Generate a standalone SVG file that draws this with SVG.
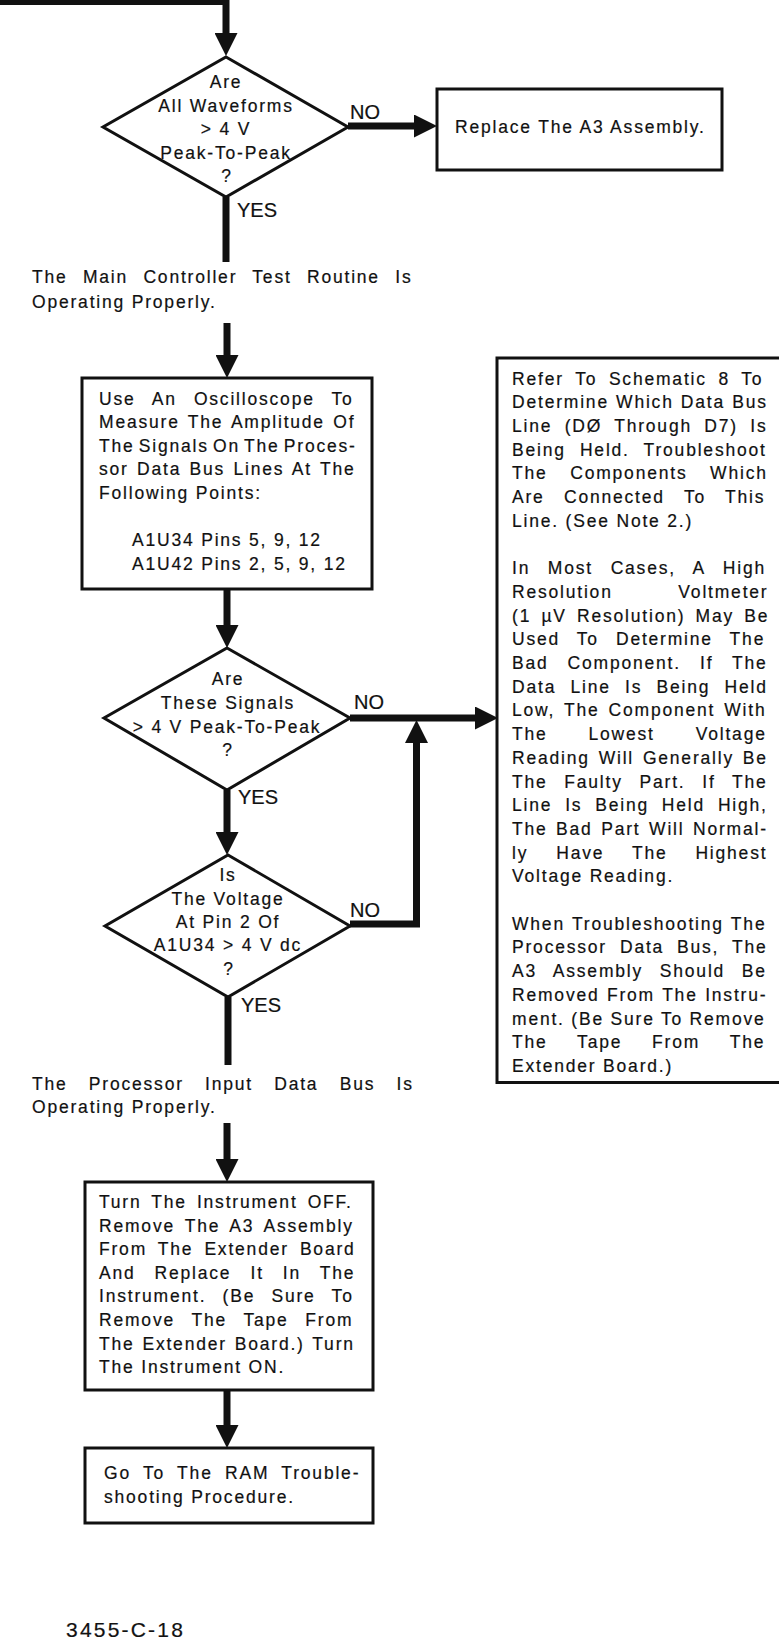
<svg xmlns="http://www.w3.org/2000/svg" width="779" height="1645" viewBox="0 0 779 1645">
<defs>
<style>
.t{font-family:"Liberation Sans",Arial,sans-serif;font-size:17.5px;letter-spacing:1.8px;fill:#111;stroke:#111;stroke-width:0.2}
.m{text-anchor:middle}
.lbl{font-family:"Liberation Sans",Arial,sans-serif;font-size:20px;fill:#111;stroke:#111;stroke-width:0.2}
.shape{fill:#fff;stroke:#111;stroke-width:3}
.open{fill:none;stroke:#111;stroke-width:3}
.edge{fill:none;stroke:#111;stroke-width:7;stroke-linejoin:miter}
.fig{font-family:"Liberation Sans",Arial,sans-serif;font-size:21px;letter-spacing:2.2px;fill:#111;stroke:#111;stroke-width:0.2}
</style>
<marker id="ah" markerUnits="userSpaceOnUse" markerWidth="24" markerHeight="23" refX="1" refY="11.5" orient="auto" viewBox="0 0 24 23">
<path d="M0,0 L23,11.5 L0,23 Z" fill="#111"/>
</marker>
</defs>
<rect x="0" y="0" width="779" height="1645" fill="#fff"/>

<g id="connectors">
<path class="edge" d="M-5,1.5 H226 V34" marker-end="url(#ah)"/>
<path class="edge" d="M348,126 H415" marker-end="url(#ah)"/>
<path class="edge" d="M226,197 V262"/>
<path class="edge" d="M227,323 V356" marker-end="url(#ah)"/>
<path class="edge" d="M227,589 V626" marker-end="url(#ah)"/>
<path class="edge" d="M350,718 H476" marker-end="url(#ah)"/>
<path class="edge" d="M227,790 V833" marker-end="url(#ah)"/>
<path class="edge" d="M350,924 H416.5 V742" marker-end="url(#ah)"/>
<path class="edge" d="M228,997 V1065"/>
<path class="edge" d="M227,1123 V1160" marker-end="url(#ah)"/>
<path class="edge" d="M227,1390 V1426" marker-end="url(#ah)"/>
<text class="lbl" x="350" y="119">NO</text>
<text class="lbl" x="237" y="216.5">YES</text>
<text class="lbl" x="354" y="709">NO</text>
<text class="lbl" x="238" y="804">YES</text>
<text class="lbl" x="350" y="916.5">NO</text>
<text class="lbl" x="241" y="1012">YES</text>
</g>

<g id="d1">
<polygon class="shape" points="226,57 348,127 226,197 103,127"/>
<text class="t m" x="226" y="88">Are</text>
<text class="t m" x="226" y="111.5">All Waveforms</text>
<text class="t m" x="226" y="135">&gt; 4 V</text>
<text class="t m" x="226" y="158.5">Peak-To-Peak</text>
<text class="t m" x="227" y="182">?</text>
</g>

<g id="replace">
<rect class="shape" x="437" y="89" width="285" height="81"/>
<text class="t" x="455" y="133">Replace The A3 Assembly.</text>
</g>

<g id="status1">
<text class="t" x="32" y="283" word-spacing="8.7">The Main Controller Test Routine Is</text>
<text class="t" x="32" y="308">Operating Properly.</text>
</g>

<g id="box1">
<rect class="shape" x="82" y="378" width="290" height="211"/>
<text class="t" x="99" y="404.5" word-spacing="10.5">Use An Oscilloscope To</text>
<text class="t" x="99" y="428" word-spacing="1.8">Measure The Amplitude Of</text>
<text class="t" x="99" y="451.5" word-spacing="-2.4">The Signals On The Proces-</text>
<text class="t" x="99" y="475" word-spacing="1.7">sor Data Bus Lines At The</text>
<text class="t" x="99" y="498.5">Following Points:</text>
<text class="t" x="132" y="546">A1U34 Pins 5, 9, 12</text>
<text class="t" x="132" y="569.5">A1U42 Pins 2, 5, 9, 12</text>
</g>

<g id="d2">
<polygon class="shape" points="227,648 350,718 227,790 104,718"/>
<text class="t m" x="228" y="684.5">Are</text>
<text class="t m" x="228" y="709">These Signals</text>
<text class="t m" x="227" y="732.5">&gt; 4 V Peak-To-Peak</text>
<text class="t m" x="228" y="756">?</text>
</g>

<g id="d3">
<polygon class="shape" points="228,855 350,926 228,997 105,926"/>
<text class="t m" x="228" y="881.3">Is</text>
<text class="t m" x="228" y="904.6">The Voltage</text>
<text class="t m" x="228" y="928">At Pin 2 Of</text>
<text class="t m" x="228" y="951.3">A1U34 &gt; 4 V dc</text>
<text class="t m" x="229" y="974.6">?</text>
</g>

<g id="status2">
<text class="t" x="32" y="1089.6" word-spacing="14.6">The Processor Input Data Bus Is</text>
<text class="t" x="32" y="1113">Operating Properly.</text>
</g>

<g id="box2">
<rect class="shape" x="85" y="1182" width="288" height="208"/>
<text class="t" x="99" y="1208" word-spacing="3.4">Turn The Instrument OFF.</text>
<text class="t" x="99" y="1231.6" word-spacing="3.4">Remove The A3 Assembly</text>
<text class="t" x="99" y="1255.2" word-spacing="4.4">From The Extender Board</text>
<text class="t" x="99" y="1278.8" word-spacing="12.4">And Replace It In The</text>
<text class="t" x="99" y="1302.4" word-spacing="9.6">Instrument. (Be Sure To</text>
<text class="t" x="99" y="1326" word-spacing="10.1">Remove The Tape From</text>
<text class="t" x="99" y="1349.6" word-spacing="1.2">The Extender Board.) Turn</text>
<text class="t" x="99" y="1373.2">The Instrument ON.</text>
</g>

<g id="box3">
<rect class="shape" x="85" y="1448" width="288" height="75"/>
<text class="t" x="104" y="1479.3" word-spacing="5.7">Go To The RAM Trouble-</text>
<text class="t" x="104" y="1503">shooting Procedure.</text>
</g>

<g id="notes">
<path class="open" d="M800,358 H497 V1082.5 H800"/>
<text class="t" x="512" y="384.6" word-spacing="5">Refer To Schematic 8 To</text>
<text class="t" x="512" y="408.3" word-spacing="0.5">Determine Which Data Bus</text>
<text class="t" x="512" y="432" word-spacing="5.7">Line (DØ Through D7) Is</text>
<text class="t" x="512" y="455.7" word-spacing="7.5">Being Held. Troubleshoot</text>
<text class="t" x="512" y="479.4" word-spacing="16">The Components Which</text>
<text class="t" x="512" y="503.1" word-spacing="12.7">Are Connected To This</text>
<text class="t" x="512" y="526.8">Line. (See Note 2.)</text>
<text class="t" x="512" y="574.2" word-spacing="11">In Most Cases, A High</text>
<text class="t" x="512" y="597.9" word-spacing="59">Resolution Voltmeter</text>
<text class="t" x="512" y="621.6" word-spacing="3.6">(1 µV Resolution) May Be</text>
<text class="t" x="512" y="645.3" word-spacing="10.4">Used To Determine The</text>
<text class="t" x="512" y="669" word-spacing="12.4">Bad Component. If The</text>
<text class="t" x="512" y="692.7" word-spacing="7.6">Data Line Is Being Held</text>
<text class="t" x="512" y="716.4" word-spacing="2.4">Low, The Component With</text>
<text class="t" x="512" y="740.1" word-spacing="34.3">The Lowest Voltage</text>
<text class="t" x="512" y="763.8" word-spacing="2.2">Reading Will Generally Be</text>
<text class="t" x="512" y="787.5" word-spacing="10.1">The Faulty Part. If The</text>
<text class="t" x="512" y="811.2" word-spacing="6.2">Line Is Being Held High,</text>
<text class="t" x="512" y="834.9" word-spacing="1.9">The Bad Part Will Normal-</text>
<text class="t" x="512" y="858.6" word-spacing="21.3">ly Have The Highest</text>
<text class="t" x="512" y="882.3">Voltage Reading.</text>
<text class="t" x="512" y="929.7" word-spacing="0.7">When Troubleshooting The</text>
<text class="t" x="512" y="953.4" word-spacing="6.3">Processor Data Bus, The</text>
<text class="t" x="512" y="977.1" word-spacing="10.1">A3 Assembly Should Be</text>
<text class="t" x="512" y="1000.8" word-spacing="0.8">Removed From The Instru-</text>
<text class="t" x="512" y="1024.5" word-spacing="-0.1">ment. (Be Sure To Remove</text>
<text class="t" x="512" y="1048.2" word-spacing="23.2">The Tape From The</text>
<text class="t" x="512" y="1071.9">Extender Board.)</text>
</g>

<g id="figure-number">
<text class="fig" x="66" y="1637">3455-C-18</text>
</g>
</svg>
